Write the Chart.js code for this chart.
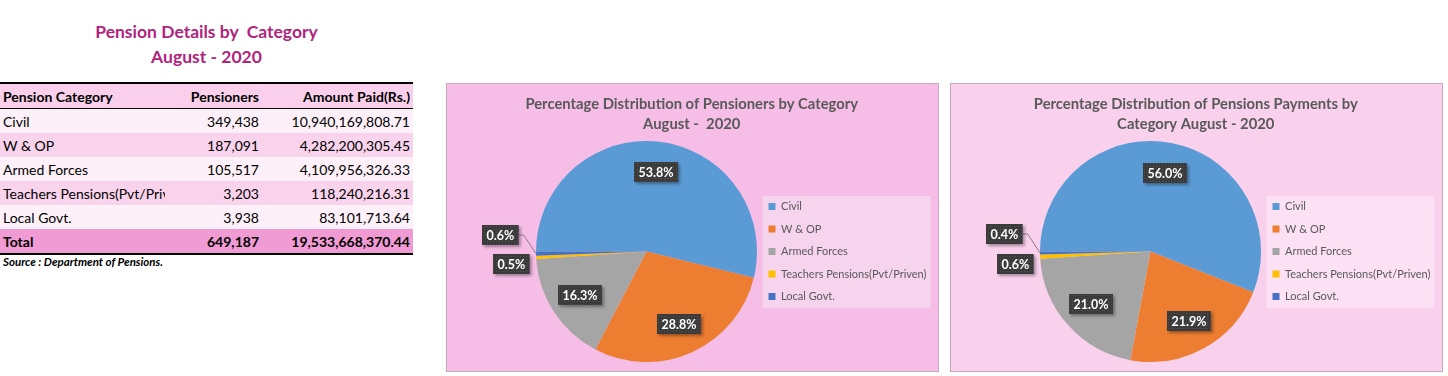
<!DOCTYPE html>
<html>
<head>
<meta charset="utf-8">
<script src="https://cdn.jsdelivr.net/npm/chart.js"></script>
<style>
body { margin:0; width:1448px; height:376px; background:#fff; font-family:Lato, sans-serif; position:relative; overflow:hidden; }
#heading { position:absolute; left:0; top:19px; width:413px; text-align:center; color:#b0247e; font-weight:bold; font-size:17.5px; line-height:25px; white-space:pre; }
#tbl { position:absolute; left:0; top:82px; width:413px; border-collapse:collapse; table-layout:fixed; font-size:14px; color:#000; }
#tbl td, #tbl th { height:24px; padding:0 3px; white-space:nowrap; overflow:hidden; text-overflow:clip; }
#tbl th { font-weight:bold; background:#f9cfeb; border-top:2px solid #000; border-bottom:1px solid #000; }
#tbl tr.light td { background:#fdf0f8; }
#tbl tr.dark td { background:#f9d3ec; }
#tbl tr.total td { background:#f09bd3; font-weight:bold; border-bottom:2px solid #000; }
#tbl .num { text-align:right; }
#source { position:absolute; left:3px; top:255px; font-size:11.5px; font-weight:bold; font-style:italic; }
.panel { position:absolute; top:83px; width:491px; height:287px; border:1px solid #c6abbe; }
#panel1 { left:446px; background:#f6bee6; }
#panel2 { left:950px; background:#f9d1ec; }
.panel canvas { display:block; }
</style>
</head>
<body>
<div id="heading">Pension Details by  Category
August - 2020</div>
<table id="tbl">
  <colgroup><col style="width:165px"><col style="width:97px"><col style="width:151px"></colgroup>
  <thead><tr><th style="text-align:left">Pension Category</th><th class="num">Pensioners</th><th class="num">Amount Paid(Rs.)</th></tr></thead>
  <tbody id="tbody"></tbody>
</table>
<div id="source">Source : Department of Pensions.</div>
<div class="panel" id="panel1"><canvas id="pie1" width="491" height="287"></canvas></div>
<div class="panel" id="panel2"><canvas id="pie2" width="491" height="287"></canvas></div>

<script>
(function () {

// -------------------------------------------------------------------------------------------------------

var categories = ['Civil', 'W & OP', 'Armed Forces', 'Teachers Pensions(Pvt/Priven)', 'Local Govt.'];
var pensioners = [349438, 187091, 105517, 3203, 3938];
var amountPaid = [10940169808.71, 4282200305.45, 4109956326.33, 118240216.31, 83101713.64];
var sliceColors = ['#5b9bd5', '#ed7d31', '#a5a5a5', '#ffc000', '#4472c4'];
var pie1Title = ['Percentage Distribution of Pensioners by Category', 'August -  2020'];
var pie2Title = ['Percentage Distribution of Pensions Payments by', 'Category August - 2020'];
var legendBg = ['#f6d4ed', '#fbe1f3'];

// -------------------------------------------------------------------------------------------------------

function fmtInt(v) { return v.toLocaleString('en-US'); }
function fmtAmt(v) { return v.toLocaleString('en-US', { minimumFractionDigits: 2, maximumFractionDigits: 2 }); }

var tbody = document.getElementById('tbody');
var sumP = 0, sumA = 0;
categories.forEach(function (c, i) {
    var tr = document.createElement('tr');
    tr.className = i % 2 === 0 ? 'light' : 'dark';
    tr.innerHTML = '<td></td><td class="num"></td><td class="num"></td>';
    tr.children[0].textContent = c;
    tr.children[1].textContent = fmtInt(pensioners[i]);
    tr.children[2].textContent = fmtAmt(amountPaid[i]);
    tbody.appendChild(tr);
    sumP += pensioners[i];
    sumA += amountPaid[i];
});
var trT = document.createElement('tr');
trT.className = 'total';
trT.innerHTML = '<td>Total</td><td class="num">' + fmtInt(sumP) + '</td><td class="num">' + fmtAmt(sumA) + '</td>';
tbody.appendChild(trT);

// -------------------------------------------------------------------------------------------------------

var dots = document.createElement('canvas');
dots.width = 3; dots.height = 3;
var dctx = dots.getContext('2d');
dctx.fillStyle = '#3b3b3b'; dctx.fillRect(0, 0, 3, 3);
dctx.fillStyle = '#525252'; dctx.fillRect(1, 1, 1, 1);

function drawLabelBox(ctx, text, x, y, leader) {
    ctx.save();
    ctx.font = 'bold 12.5px Lato';
    var w = ctx.measureText(text).width + 9, h = 20;
    var bx = Math.round(x - w / 2), by = Math.round(y - h / 2);
    if (leader) {
        ctx.strokeStyle = '#8a7a88';
        ctx.lineWidth = 1;
        ctx.beginPath();
        ctx.moveTo(bx + w, by + h / 2);
        ctx.lineTo(bx + w + 5, by + h / 2);
        ctx.lineTo(leader[0], leader[1]);
        ctx.stroke();
    }
    ctx.shadowColor = 'rgba(0,0,0,0.35)';
    ctx.shadowBlur = 3;
    ctx.shadowOffsetX = 2;
    ctx.shadowOffsetY = 2;
    ctx.fillStyle = ctx.createPattern(dots, 'repeat');
    ctx.fillRect(bx, by, w, h);
    ctx.shadowColor = 'transparent';
    ctx.fillStyle = '#ffffff';
    ctx.textAlign = 'center';
    ctx.textBaseline = 'middle';
    ctx.fillText(text, bx + w / 2, by + h / 2 + 1);
    ctx.restore();
}

var pctLabels = {
    id: 'pctLabels',
    afterDatasetsDraw: function (chart) {
        var ctx = chart.ctx;
        var meta = chart.getDatasetMeta(0);
        var data = chart.data.datasets[0].data;
        var total = data.reduce(function (a, b) { return a + b; }, 0);
        var small = 0;
        meta.data.forEach(function (arc, i) {
            var p = arc.getProps(['x', 'y', 'startAngle', 'endAngle', 'outerRadius'], true);
            var mid = (p.startAngle + p.endAngle) / 2;
            var pct = data[i] / total * 100;
            var text = pct.toFixed(1) + '%';
            if (pct >= 3) {
                drawLabelBox(ctx, text, p.x + Math.cos(mid) * p.outerRadius * 0.72, p.y + Math.sin(mid) * p.outerRadius * 0.72, null);
            } else {
                var ex = p.x + Math.cos(mid) * p.outerRadius;
                var ey = p.y + Math.sin(mid) * p.outerRadius;
                if (small === 0) drawLabelBox(ctx, text, ex - 25, ey + 7, null);
                else drawLabelBox(ctx, text, ex - 36, ey - 19, [ex, ey]);
                small++;
            }
        });
    }
};

var legendBox = {
    id: 'legendBox',
    beforeDraw: function (chart, args, opts) {
        var hb = chart.legend && chart.legend.legendHitBoxes;
        if (!hb || !hb.length) return;
        var x0 = Infinity, y0 = Infinity, x1 = -Infinity, y1 = -Infinity;
        hb.forEach(function (b) {
            x0 = Math.min(x0, b.left); y0 = Math.min(y0, b.top);
            x1 = Math.max(x1, b.left + b.width); y1 = Math.max(y1, b.top + b.height);
        });
        var ctx = chart.ctx;
        ctx.save();
        ctx.fillStyle = opts.color;
        ctx.fillRect(x0 - 6, y0 - 5, x1 - x0 + 10, y1 - y0 + 11);
        ctx.restore();
    }
};

// empty box on the left of the plot: pushes the pie right, title stays centred on the whole panel
var leftGap = {
    id: 'leftGap',
    beforeInit: function (chart, args, opts) {
        Chart.layouts.addBox(chart, {
            position: 'left',
            fullSize: false,
            weight: 5,
            options: { display: false },
            isHorizontal: function () { return false; },
            update: function (maxWidth, maxHeight) { this.width = opts.width; this.height = maxHeight; },
            draw: function () {}
        });
    }
};

window.pie_chart = function (canvasId, values, title, bg) {
    try {
        var canvas = document.getElementById(canvasId);
        if (!canvas) return;

        var ctx = canvas.getContext("2d");

        return new Chart(ctx, {
            type: 'pie',
            data: {
                labels: categories,
                datasets: [{
                    data: values,
                    backgroundColor: sliceColors,
                    borderWidth: 0
                }]
            },
            options: {
                responsive: false,
                animation: false,
                rotation: -90,
                layout: { padding: { left: 0, right: 1.5, top: 0, bottom: 8.5 } },
                plugins: {
                    title: {
                        display: true,
                        text: title,
                        color: '#595959',
                        font: { family: 'Lato', size: 14.8, weight: 'bold', lineHeight: 1.35 },
                        padding: { top: 10, bottom: 6.5 }
                    },
                    legend: {
                        position: 'right',
                        fullSize: false,
                        labels: {
                            color: '#595959',
                            font: { family: 'Lato', size: 11 },
                            boxWidth: 7,
                            boxHeight: 7,
                            padding: 11.5
                        }
                    },
                    leftGap: { width: 89 },
                    legendBox: { color: bg },
                    tooltip: { enabled: false }
                }
            },
            plugins: [leftGap, legendBox, pctLabels]
        });
    } catch (e) { console.log(e); }
};

// -------------------------------------------------------------------------------------------------------

pie_chart('pie1', pensioners, pie1Title, legendBg[0]);
pie_chart('pie2', amountPaid, pie2Title, legendBg[1]);

})();
</script>
</body>
</html>
